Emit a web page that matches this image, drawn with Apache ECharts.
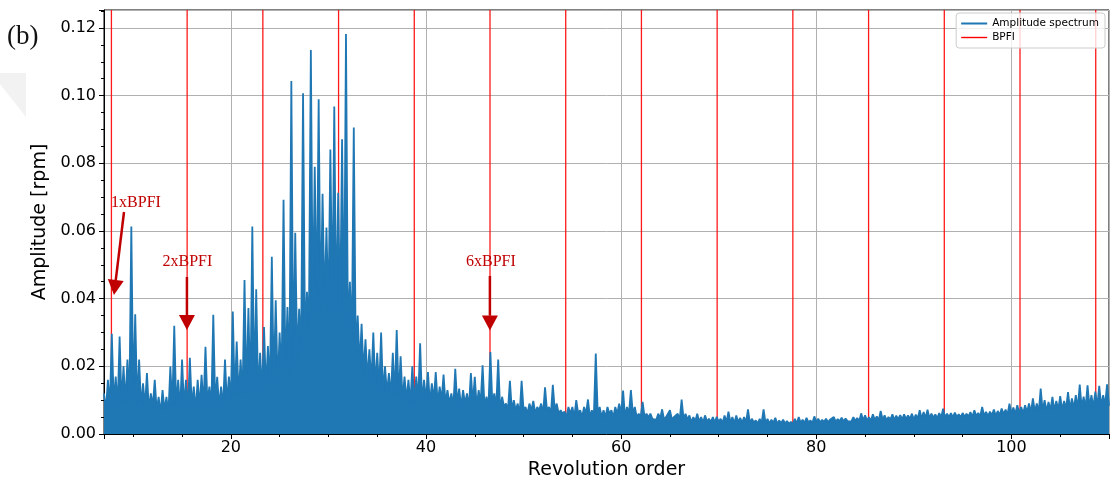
<!DOCTYPE html>
<html><head><meta charset="utf-8">
<script src="https://cdn.jsdelivr.net/npm/echarts@6/dist/echarts.min.js"></script>
<style>html,body{margin:0;padding:0;background:#fff}#c{width:1113px;height:485px}</style>
</head><body><div id="c"></div>
<script>
// Sampling grid of the spectrum (revolution order)
const orderStart = 7.0;
const orderStep = 0.2;
// Local maxima, at orders 7.0, 7.4, 7.8, ... (one value every 0.4 order)
const peakAmp = [
  0.012, 0.016, 0.0296, 0.017, 0.0288,
  0.020, 0.022, 0.0613, 0.0354, 0.022,
  0.015, 0.018, 0.012, 0.016, 0.011,
  0.013, 0.011, 0.0199, 0.032, 0.016,
  0.022, 0.016, 0.0225, 0.014, 0.016,
  0.0175, 0.0258, 0.014, 0.0352, 0.0169,
  0.014, 0.022, 0.017, 0.0362, 0.0273,
  0.022, 0.0455, 0.0372, 0.0613, 0.0428,
  0.024, 0.0316, 0.026, 0.0524, 0.0395,
  0.030, 0.0692, 0.0375, 0.1043, 0.0595,
  0.037, 0.1007, 0.042, 0.1135, 0.079,
  0.0989, 0.071, 0.061, 0.0841, 0.0968,
  0.0713, 0.0871, 0.1182, 0.045, 0.0906,
  0.035, 0.0326, 0.028, 0.025, 0.030,
  0.024, 0.030, 0.020, 0.018, 0.024,
  0.0307, 0.023, 0.017, 0.016, 0.020,
  0.017, 0.0268, 0.016, 0.0183, 0.015,
  0.0183, 0.014, 0.0176, 0.013, 0.012,
  0.0193, 0.0134, 0.013, 0.012, 0.018,
  0.0169, 0.013, 0.0203, 0.011, 0.0242,
  0.012, 0.022, 0.011, 0.009, 0.0157,
  0.010, 0.009, 0.0157, 0.008, 0.009,
  0.0098, 0.008, 0.009, 0.0138, 0.008,
  0.0145, 0.009, 0.007, 0.0066, 0.008,
  0.008, 0.010, 0.007, 0.008, 0.0102,
  0.007, 0.0238, 0.008, 0.007, 0.008,
  0.007, 0.008, 0.009, 0.0128, 0.008,
  0.013, 0.008, 0.006, 0.0095, 0.006,
  0.006, 0.005, 0.006, 0.0073, 0.005,
  0.007, 0.005, 0.006, 0.0102, 0.006,
  0.0055, 0.005, 0.006, 0.005, 0.0055,
  0.0045, 0.005, 0.0051, 0.0045, 0.0055,
  0.0066, 0.005, 0.0055, 0.0048, 0.005,
  0.0073, 0.0045, 0.004, 0.0045, 0.0073,
  0.0045, 0.0042, 0.0048, 0.004, 0.0042,
  0.0038, 0.0036, 0.0045, 0.005, 0.0042,
  0.0048, 0.004, 0.0052, 0.0045, 0.0042,
  0.0045, 0.0042, 0.005, 0.0044, 0.0048,
  0.0046, 0.0043, 0.005, 0.0047, 0.0061,
  0.0055, 0.005, 0.0058, 0.0052, 0.0068,
  0.0055, 0.005, 0.0058, 0.0054, 0.0056,
  0.0058, 0.0055, 0.006, 0.0057, 0.0070,
  0.0065, 0.0072, 0.006, 0.0058, 0.0062,
  0.0075, 0.006, 0.0062, 0.0063, 0.0058,
  0.0062, 0.006, 0.0065, 0.0070, 0.0062,
  0.0080, 0.0065, 0.0066, 0.0072, 0.0068,
  0.0075, 0.0072, 0.009, 0.0078, 0.0085,
  0.008, 0.0085, 0.009, 0.0105, 0.009,
  0.0134, 0.010, 0.0095, 0.011, 0.0098,
  0.0112, 0.0098, 0.0124, 0.0105, 0.0115,
  0.0146, 0.011, 0.0144, 0.0115, 0.0125,
  0.0142, 0.0115, 0.0147
];
// Noise floor between the peaks, at orders 7.2, 7.6, 8.0, ... , 110.0
const dipAmp = [
  0.007, 0.008, 0.009, 0.008, 0.009,
  0.009, 0.010, 0.011, 0.009, 0.008,
  0.008, 0.007, 0.008, 0.007, 0.006,
  0.007, 0.006, 0.008, 0.008, 0.007,
  0.008, 0.007, 0.008, 0.007, 0.008,
  0.008, 0.009, 0.008, 0.009, 0.008,
  0.008, 0.009, 0.010, 0.011, 0.011,
  0.011, 0.012, 0.011, 0.013, 0.012,
  0.012, 0.013, 0.014, 0.015, 0.014,
  0.016, 0.018, 0.017, 0.020, 0.022,
  0.024, 0.028, 0.032, 0.035, 0.036,
  0.035, 0.038, 0.036, 0.037, 0.034,
  0.035, 0.032, 0.030, 0.028, 0.024,
  0.020, 0.018, 0.016, 0.015, 0.014,
  0.013, 0.012, 0.012, 0.011, 0.011,
  0.011, 0.010, 0.010, 0.009, 0.009,
  0.010, 0.009, 0.010, 0.009, 0.010,
  0.009, 0.010, 0.009, 0.009, 0.008,
  0.009, 0.008, 0.009, 0.008, 0.009,
  0.008, 0.009, 0.008, 0.008, 0.009,
  0.008, 0.007, 0.008, 0.007, 0.007,
  0.007, 0.006, 0.007, 0.006, 0.007,
  0.006, 0.007, 0.006, 0.007, 0.006,
  0.007, 0.006, 0.006, 0.005, 0.006,
  0.005, 0.006, 0.005, 0.006, 0.005,
  0.005, 0.006, 0.005, 0.005, 0.006,
  0.005, 0.006, 0.006, 0.005, 0.006,
  0.006, 0.005, 0.005, 0.005, 0.005,
  0.0045, 0.0042, 0.0046, 0.0043, 0.0045,
  0.0043, 0.0046, 0.0042, 0.0044, 0.0043,
  0.0035, 0.0038, 0.0036, 0.0034, 0.0037,
  0.0035, 0.0034, 0.0036, 0.0033, 0.0035,
  0.0034, 0.0032, 0.0035, 0.0033, 0.0034,
  0.0032, 0.0034, 0.0031, 0.0033, 0.0032,
  0.0031, 0.0033, 0.003, 0.0032, 0.0031,
  0.003, 0.0029, 0.0031, 0.0033, 0.0032,
  0.0034, 0.0033, 0.0035, 0.0034, 0.0036,
  0.0035, 0.0037, 0.0036, 0.0038, 0.0037,
  0.0038, 0.0037, 0.0039, 0.0038, 0.004,
  0.004, 0.0039, 0.0041, 0.004, 0.0042,
  0.0041, 0.0043, 0.0042, 0.0044, 0.0043,
  0.0044, 0.0045, 0.0043, 0.0046, 0.0045,
  0.0047, 0.0046, 0.0048, 0.0047, 0.0049,
  0.0048, 0.005, 0.0049, 0.0051, 0.005,
  0.0051, 0.0052, 0.005, 0.0053, 0.0052,
  0.0054, 0.0053, 0.0055, 0.0054, 0.0056,
  0.0058, 0.0057, 0.006, 0.0059, 0.0062,
  0.0061, 0.0064, 0.0063, 0.0066, 0.0065,
  0.0068, 0.0067, 0.007, 0.0069, 0.0072,
  0.0071, 0.0074, 0.0073, 0.0076, 0.0075,
  0.0078, 0.0077, 0.008, 0.0079, 0.0082,
  0.0081, 0.0084, 0.0083
];
// BPFI harmonics (red vertical lines)
const bpfiOrders = [7.76, 15.52, 23.28, 31.04, 38.80, 46.56, 54.32, 62.08, 69.84, 77.60, 85.36, 93.12, 100.88, 108.64];
// Annotations
const annoText = ['1xBPFI', '2xBPFI', '6xBPFI'];
const annoTextPos = [[10.28, 0.0683], [15.55, 0.0508], [46.65, 0.0508]];
const annoTail = [[9.05, 0.0656], [15.50, 0.0464], [46.55, 0.0467]];
const annoTip = [[8.02, 0.0411], [15.50, 0.0307], [46.55, 0.0306]];
const seriesNames = ['Amplitude spectrum', 'BPFI'];
const xTitle = 'Revolution order';
const yTitle = 'Amplitude [rpm]';
const panelLabel = '(b)';

const spectrum = [];
for (let i = 0; i < peakAmp.length; i++) {
  spectrum.push([+(orderStart + 2 * i * orderStep).toFixed(2), peakAmp[i]]);
  if (i < dipAmp.length) spectrum.push([+(orderStart + (2 * i + 1) * orderStep).toFixed(2), dipAmp[i]]);
}

const chart = echarts.init(document.getElementById('c'), null, {renderer: 'canvas'});
const font = 'DejaVu Sans';
chart.setOption({
  animation: false,
  backgroundColor: '#fff',
  grid: {left: 104, right: 4, top: 10, bottom: 51, show: true, borderColor: '#000', borderWidth: 1, backgroundColor: 'transparent'},
  legend: {
    right: 8, top: 13, orient: 'vertical',
    data: [
      {name: seriesNames[0], icon: 'rect'},
      {name: seriesNames[1], icon: 'path://M0,0L26,0L26,1.4L0,1.4Z'}
    ],
    itemWidth: 26, itemHeight: 2, itemGap: 3,
    padding: [5, 6, 5, 5],
    backgroundColor: 'rgba(255,255,255,0.8)', borderColor: '#cccccc', borderWidth: 1, borderRadius: 3,
    textStyle: {fontFamily: font, fontSize: 10.5, color: '#000'}
  },
  xAxis: {
    type: 'value', min: 7, max: 110, splitNumber: 5,
    name: xTitle, nameLocation: 'middle', nameGap: 22,
    nameTextStyle: {fontFamily: font, fontSize: 19, color: '#000'},
    axisLine: {show: true, onZero: false, lineStyle: {color: '#000', width: 1}},
    axisTick: {show: true, length: 5, lineStyle: {color: '#000'}},
    minorTick: {show: true, splitNumber: 4, length: 3, lineStyle: {color: '#000'}},
    axisLabel: {fontFamily: font, fontSize: 16, color: '#000', margin: 6, showMinLabel: false, showMaxLabel: false},
    splitLine: {show: true, lineStyle: {color: '#b0b0b0', width: 1}},
    minorSplitLine: {show: false}
  },
  yAxis: {
    type: 'value', min: 0, max: 0.1253, interval: 0.02,
    name: yTitle, nameLocation: 'middle', nameGap: 43,
    nameTextStyle: {fontFamily: font, fontSize: 19, color: '#000'},
    axisLine: {show: true, onZero: false, lineStyle: {color: '#000', width: 1}},
    axisTick: {show: true, length: 5, lineStyle: {color: '#000'}},
    minorTick: {show: true, splitNumber: 4, length: 3, lineStyle: {color: '#000'}},
    axisLabel: {fontFamily: font, fontSize: 16, color: '#000', margin: 8, showMaxLabel: false,
      formatter: v => v.toFixed(2)},
    splitLine: {show: true, lineStyle: {color: '#b0b0b0', width: 1}}
  },
  series: [
    {
      name: seriesNames[1], type: 'line', data: [], symbol: 'none', color: '#ff0000',
      lineStyle: {color: '#ff0000', width: 1.2}
    },
    {
      name: 'bpfiLines', type: 'custom', silent: true, z: 1,
      data: bpfiOrders.map(v => [v, 0]),
      encode: {x: 0, y: 1},
      renderItem: (params, api) => {
        const x = api.coord([api.value(0), 0])[0];
        const cs = params.coordSys;
        return {type: 'line', shape: {x1: x, y1: cs.y, x2: x, y2: cs.y + cs.height},
          style: {stroke: '#ff0000', lineWidth: 1.3, opacity: 0.9}};
      }
    },
    {
      name: seriesNames[0], type: 'line', data: spectrum, z: 2,
      symbol: 'none', showSymbol: false, sampling: null, color: '#1f77b4',
      lineStyle: {color: '#1f77b4', width: 1.8},
      areaStyle: {color: '#1f77b4', opacity: 1, origin: 'start'}
    }
  ]
});

function px(p) { return chart.convertToPixel({gridIndex: 0}, p); }
const annoColor = '#c00000';
const graphics = [];
graphics.push({type: 'polygon', shape: {points: [[0, 73], [26, 73], [26, 117], [0, 84]]}, style: {fill: '#f2f2f2'}, z: 0});
graphics.push({type: 'text', left: 7, top: 23, style: {text: panelLabel, font: '27px "Liberation Serif"', fill: '#111'}});
for (let i = 0; i < annoText.length; i++) {
  const t = px(annoTextPos[i]);
  graphics.push({type: 'text', x: t[0], y: t[1], style: {text: annoText[i], font: '16px "Liberation Serif"', fill: annoColor, align: 'center', verticalAlign: 'middle'}, z: 10});
  const a = px(annoTail[i]), b = px(annoTip[i]);
  const dx = b[0] - a[0], dy = b[1] - a[1], L = Math.hypot(dx, dy);
  const ux = dx / L, uy = dy / L, nx = -uy, ny = ux;
  const headLen = 15, headHalf = 8;
  const base = [b[0] - ux * headLen, b[1] - uy * headLen];
  graphics.push({type: 'line', shape: {x1: a[0], y1: a[1], x2: base[0], y2: base[1]}, style: {stroke: annoColor, lineWidth: 2.5}, z: 10});
  graphics.push({type: 'polygon', shape: {points: [[b[0], b[1]], [base[0] + nx * headHalf, base[1] + ny * headHalf], [base[0] - nx * headHalf, base[1] - ny * headHalf]]}, style: {fill: annoColor}, z: 10});
}
chart.setOption({graphic: graphics});
</script></body></html>
